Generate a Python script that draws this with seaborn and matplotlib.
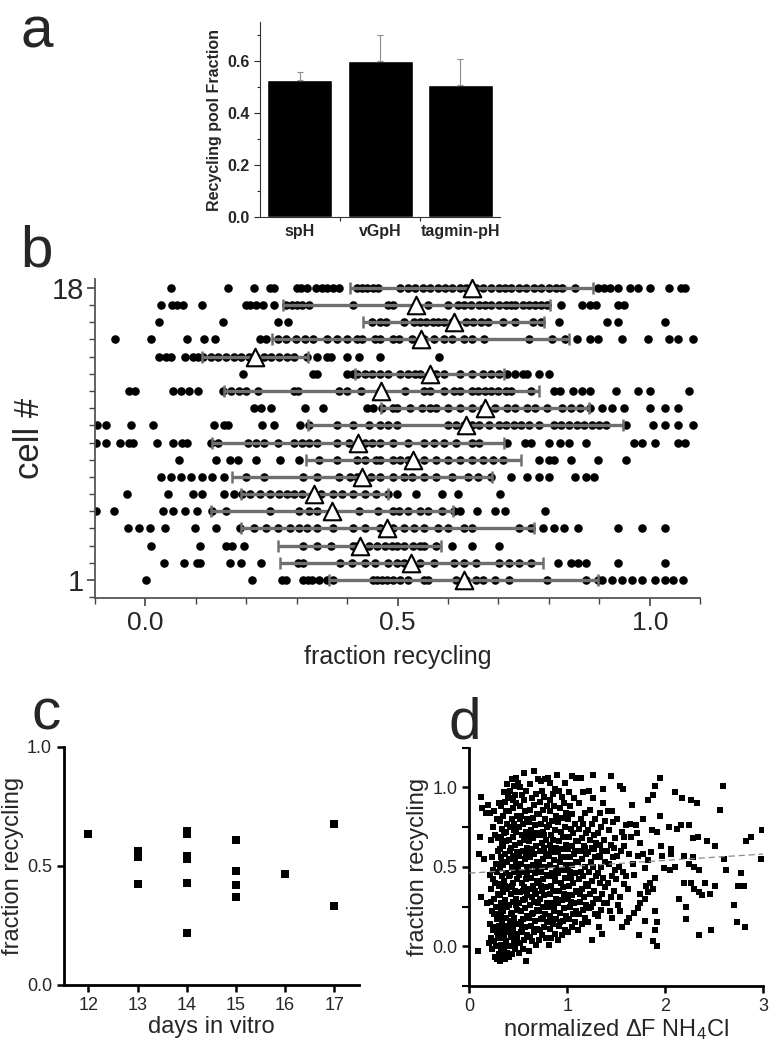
import numpy as np
import pandas as pd
import matplotlib
matplotlib.use("Agg")
import matplotlib.pyplot as plt
import seaborn as sns
from matplotlib.ticker import MultipleLocator, FixedLocator

# ---- panel a: recycling pool fraction per probe
probes = ["spH", "vGpH", "tagmin-pH"]
pool_frac = [0.527, 0.600, 0.508]
pool_err = [0.031, 0.100, 0.099]

# ---- panel b: fraction recycling of every bouton, one list per cell (cell 1 .. 18)
cell_points = [
    [0.002, 0.211, 0.27, 0.278, 0.313, 0.322, 0.33, 0.345, 0.36, 0.372, 0.451, 0.46, 0.47, 0.48, 0.49, 0.505, 0.521,
     0.553, 0.56, 0.615, 0.635, 0.655, 0.67, 0.694, 0.721, 0.796, 0.874, 0.898, 0.906, 0.925, 0.945, 0.964, 0.984,
     1.011, 1.031, 1.047, 1.066],
    [0.036, 0.076, 0.102, 0.109, 0.167, 0.19, 0.229, 0.302, 0.313, 0.386, 0.41, 0.435, 0.455, 0.482, 0.498, 0.513,
     0.545, 0.572, 0.611, 0.631, 0.655, 0.702, 0.72, 0.741, 0.764, 0.819, 0.843, 0.858, 0.874, 0.937, 1.031],
    [0.011, 0.109, 0.16, 0.172, 0.196, 0.313, 0.341, 0.368, 0.411, 0.419, 0.443, 0.46, 0.475, 0.488, 0.498, 0.513,
     0.53, 0.545, 0.553, 0.576, 0.607, 0.647, 0.702],
    [-0.034, -0.012, 0.01, 0.039, 0.098, 0.141, 0.188, 0.215, 0.239, 0.262, 0.286, 0.305, 0.321, 0.341, 0.372, 0.411,
     0.435, 0.466, 0.49, 0.513, 0.533, 0.553, 0.58, 0.6, 0.631, 0.647, 0.741, 0.764, 0.788, 0.81, 0.83, 0.858, 0.937,
     0.984, 1.031],
    [-0.098, -0.063, 0.035, 0.055, 0.078, 0.102, 0.133, 0.16, 0.247, 0.305, 0.325, 0.341, 0.372, 0.423, 0.462, 0.49,
     0.502, 0.52, 0.545, 0.56, 0.588, 0.611, 0.623, 0.658, 0.694, 0.713, 0.792],
    [-0.037, 0.044, 0.094, 0.113, 0.156, 0.176, 0.192, 0.207, 0.227, 0.247, 0.265, 0.28, 0.294, 0.31, 0.333, 0.349,
     0.372, 0.39, 0.411, 0.435, 0.458, 0.482, 0.498, 0.537, 0.588, 0.62, 0.704],
    [0.031, 0.05, 0.07, 0.09, 0.113, 0.133, 0.156, 0.2, 0.235, 0.313, 0.341, 0.384, 0.405, 0.419, 0.447, 0.466, 0.49,
     0.513, 0.529, 0.553, 0.576, 0.607, 0.639, 0.66, 0.686, 0.725, 0.756, 0.78, 0.8, 0.851, 0.874, 0.89],
    [0.066, 0.141, 0.168, 0.184, 0.219, 0.266, 0.305, 0.345, 0.38, 0.419, 0.435, 0.458, 0.466, 0.49, 0.505, 0.521,
     0.553, 0.576, 0.6, 0.623, 0.647, 0.67, 0.69, 0.71, 0.78, 0.8, 0.811, 0.843, 0.898, 0.953],
    [-0.098, -0.079, -0.051, -0.032, -0.024, 0.023, 0.055, 0.073, 0.082, 0.131, 0.145, 0.204, 0.22, 0.235, 0.262,
     0.294, 0.31, 0.325, 0.341, 0.38, 0.404, 0.435, 0.45, 0.465, 0.49, 0.521, 0.553, 0.572, 0.592, 0.615, 0.647,
     0.662, 0.717, 0.753, 0.764, 0.8, 0.823, 0.839, 0.874, 0.968, 0.984, 1.011, 1.055, 1.07],
    [-0.095, -0.079, -0.028, 0.015, 0.137, 0.156, 0.164, 0.231, 0.255, 0.306, 0.325, 0.38, 0.411, 0.443, 0.466,
     0.482, 0.498, 0.6, 0.615, 0.631, 0.647, 0.662, 0.682, 0.702, 0.715, 0.73, 0.745, 0.76, 0.78, 0.811, 0.825, 0.84,
     0.855, 0.87, 0.885, 0.9, 0.913, 0.953, 1.007, 1.031, 1.055, 1.086],
    [0.215, 0.23, 0.25, 0.317, 0.352, 0.439, 0.451, 0.47, 0.49, 0.498, 0.525, 0.549, 0.565, 0.576, 0.6, 0.623, 0.647,
     0.67, 0.694, 0.717, 0.733, 0.756, 0.772, 0.796, 0.827, 0.843, 0.862, 0.882, 0.906, 0.925, 0.949, 1.0, 1.031,
     1.055],
    [-0.032, -0.02, 0.055, 0.071, 0.086, 0.105, 0.154, 0.17, 0.185, 0.2, 0.223, 0.294, 0.302, 0.384, 0.4, 0.427,
     0.466, 0.515, 0.553, 0.564, 0.592, 0.611, 0.623, 0.647, 0.66, 0.674, 0.686, 0.7, 0.715, 0.725, 0.764, 0.811,
     0.823, 0.847, 0.866, 0.882, 0.933, 0.976, 1.0, 1.078],
    [0.193, 0.333, 0.341, 0.4, 0.411, 0.42, 0.435, 0.45, 0.465, 0.482, 0.505, 0.52, 0.535, 0.545, 0.576, 0.592, 0.623,
     0.647, 0.67, 0.686, 0.702, 0.717, 0.733, 0.749, 0.756, 0.78, 0.8],
    [0.027, 0.04, 0.051, 0.078, 0.094, 0.105, 0.115, 0.13, 0.145, 0.16, 0.175, 0.19, 0.205, 0.22, 0.235, 0.25, 0.265,
     0.28, 0.294, 0.321, 0.341, 0.36, 0.368, 0.4, 0.423, 0.466, 0.582],
    [-0.061, 0.011, 0.082, 0.117, 0.138, 0.227, 0.239, 0.262, 0.278, 0.298, 0.317, 0.333, 0.36, 0.38, 0.4, 0.42,
     0.429, 0.455, 0.466, 0.49, 0.502, 0.529, 0.553, 0.572, 0.592, 0.607, 0.631, 0.647, 0.672, 0.76, 0.807, 0.831,
     0.855, 0.882, 0.898, 0.945, 0.996, 1.039, 1.056, 1.086],
    [0.027, 0.154, 0.262, 0.282, 0.45, 0.465, 0.478, 0.513, 0.533, 0.545, 0.557, 0.57, 0.58, 0.592, 0.607, 0.635,
     0.65, 0.665, 0.68, 0.71, 0.733, 0.768, 0.784, 0.82, 0.915, 0.938, 1.03],
    [0.031, 0.052, 0.062, 0.074, 0.112, 0.2, 0.207, 0.219, 0.233, 0.255, 0.278, 0.29, 0.3, 0.31, 0.325, 0.411, 0.482,
     0.49, 0.56, 0.6, 0.619, 0.632, 0.646, 0.662, 0.674, 0.686, 0.702, 0.714, 0.725, 0.733, 0.749, 0.76, 0.772,
     0.784, 0.796, 0.825, 0.865, 0.882, 0.894, 0.937, 0.949],
    [0.051, 0.164, 0.215, 0.247, 0.255, 0.3, 0.309, 0.321, 0.339, 0.35, 0.36, 0.372, 0.384, 0.419, 0.429, 0.439,
     0.451, 0.462, 0.505, 0.52, 0.535, 0.55, 0.565, 0.58, 0.595, 0.607, 0.623, 0.635, 0.655, 0.67, 0.686, 0.702,
     0.713, 0.725, 0.74, 0.755, 0.77, 0.785, 0.8, 0.815, 0.827, 0.851, 0.898, 0.909, 0.921, 0.937, 0.96, 0.976, 1.0,
     1.039, 1.062, 1.07],
]
cell_mean = [0.631, 0.527, 0.425, 0.480, 0.370, 0.335, 0.429, 0.531, 0.422,
             0.635, 0.674, 0.468, 0.564, 0.217, 0.546, 0.611, 0.537, 0.647]
cell_sd = [0.267, 0.261, 0.162, 0.290, 0.239, 0.146, 0.258, 0.213, 0.290,
           0.312, 0.206, 0.313, 0.148, 0.105, 0.294, 0.180, 0.265, 0.241]

# ---- panel c: mean fraction recycling per cell vs days in vitro
div_days = [12, 13, 13, 13, 14, 14, 14, 14, 14, 14, 15, 15, 15, 15, 16, 17, 17]
div_frac = [0.632, 0.563, 0.538, 0.424, 0.647, 0.633, 0.542, 0.527, 0.429, 0.216,
            0.609, 0.479, 0.420, 0.368, 0.466, 0.674, 0.333]

# ---- panel d: fraction recycling vs normalized dF NH4Cl (x, y) per bouton
d_dense = [
    (0.12, 0.94), (0.13, 0.87), (0.11, 0.69), (0.10, 0.58), (0.12, 0.31), (0.09, -0.03), (0.19, 0.89), (0.18, 0.27),
    (0.17, 0.84), (0.15, 0.55), (0.20, 0.02),
    (0.21, 0.84), (0.22, 0.67), (0.23, 0.56), (0.21, 0.45), (0.24, 0.42), (0.22, 0.36), (0.25, 0.30), (0.23, 0.22),
    (0.21, 0.14), (0.24, 0.10), (0.22, 0.05), (0.25, 0.03), (0.23, -0.02), (0.26, -0.07), (0.28, -0.08), (0.27, 0.00),
    (0.29, 0.06), (0.26, 0.12), (0.28, 0.17), (0.27, 0.25), (0.29, 0.33), (0.26, 0.40), (0.28, 0.47), (0.27, 0.52),
    (0.29, 0.60), (0.26, 0.70), (0.28, 0.80), (0.25, 0.85), (0.30, 0.90), (0.24, 0.75), (0.29, 0.68), (0.30, 0.38),
    (0.30, 0.13), (0.30, -0.05), (0.22, 0.28), (0.25, 0.20), (0.28, 0.09), (0.24, 0.48),
    (0.31, -0.09), (0.34, -0.06), (0.37, -0.08), (0.32, -0.03), (0.36, -0.01), (0.39, -0.04), (0.33, 0.01),
    (0.38, 0.03), (0.31, 0.05), (0.35, 0.07), (0.39, 0.09), (0.32, 0.11), (0.36, 0.13), (0.34, 0.16), (0.38, 0.18),
    (0.31, 0.20), (0.35, 0.22), (0.39, 0.25), (0.33, 0.27), (0.37, 0.29), (0.31, 0.32), (0.35, 0.34), (0.39, 0.36),
    (0.32, 0.39), (0.36, 0.41), (0.34, 0.44), (0.38, 0.46), (0.31, 0.49), (0.35, 0.51), (0.39, 0.53), (0.33, 0.56),
    (0.37, 0.58), (0.31, 0.61), (0.35, 0.63), (0.38, 0.66), (0.32, 0.69), (0.36, 0.71), (0.34, 0.74), (0.39, 0.77),
    (0.31, 0.79), (0.35, 0.82), (0.38, 0.85), (0.33, 0.88), (0.37, 0.91), (0.40, 0.94), (0.36, 0.97), (0.39, 1.02),
    (0.34, 0.53), (0.38, 0.12), (0.33, 0.19), (0.37, 0.38), (0.32, 0.24), (0.36, 0.06), (0.39, 0.00), (0.35, 0.27),
    (0.34, 0.65), (0.38, 0.72),
    (0.41, -0.07), (0.44, -0.05), (0.47, -0.02), (0.42, 0.00), (0.46, 0.02), (0.49, 0.05), (0.43, 0.06), (0.41, 0.09),
    (0.45, 0.11), (0.48, 0.14), (0.42, 0.16), (0.46, 0.18), (0.44, 0.21), (0.49, 0.23), (0.41, 0.26), (0.45, 0.28),
    (0.48, 0.30), (0.43, 0.33), (0.47, 0.35), (0.41, 0.37), (0.45, 0.40), (0.49, 0.42), (0.42, 0.45), (0.46, 0.47),
    (0.44, 0.50), (0.48, 0.52), (0.41, 0.55), (0.45, 0.57), (0.49, 0.59), (0.43, 0.62), (0.47, 0.64), (0.41, 0.67),
    (0.45, 0.69), (0.48, 0.72), (0.42, 0.75), (0.46, 0.77), (0.44, 0.80), (0.49, 0.82), (0.41, 0.85), (0.45, 0.87),
    (0.48, 0.90), (0.43, 0.93), (0.47, 0.95), (0.42, 0.98), (0.46, 1.01), (0.44, 1.05), (0.48, 1.06), (0.50, 1.03),
    (0.43, 0.20), (0.47, 0.08), (0.44, 0.38), (0.49, 0.34), (0.42, 0.60), (0.46, 0.73), (0.50, 0.48), (0.44, 0.12),
    (0.48, 0.26), (0.45, 0.92), (0.41, 0.44), (0.47, 0.55),
    (0.51, -0.04), (0.55, -0.02), (0.58, -0.09), (0.52, 0.02), (0.56, 0.04), (0.59, 0.07), (0.53, 0.09), (0.57, 0.12),
    (0.51, 0.14), (0.55, 0.17), (0.59, 0.19), (0.53, 0.22), (0.57, 0.24), (0.51, 0.27), (0.55, 0.29), (0.59, 0.32),
    (0.52, 0.34), (0.56, 0.37), (0.54, 0.40), (0.58, 0.42), (0.51, 0.45), (0.55, 0.47), (0.59, 0.50), (0.53, 0.52),
    (0.57, 0.55), (0.51, 0.57), (0.55, 0.60), (0.59, 0.62), (0.52, 0.65), (0.56, 0.67), (0.54, 0.70), (0.58, 0.72),
    (0.51, 0.75), (0.55, 0.77), (0.59, 0.80), (0.53, 0.82), (0.57, 0.85), (0.52, 0.88), (0.56, 0.92), (0.54, 0.95),
    (0.58, 0.98), (0.56, 1.09), (0.52, 1.00), (0.57, 0.30), (0.53, 0.15), (0.58, 0.58), (0.52, 0.80), (0.55, 0.35),
    (0.59, 0.45), (0.54, 0.10), (0.57, 0.68),
    (0.61, -0.03), (0.64, 0.03), (0.68, 0.01), (0.62, 0.06), (0.66, 0.09), (0.69, 0.11), (0.63, 0.13), (0.67, 0.16),
    (0.61, 0.18), (0.65, 0.21), (0.69, 0.23), (0.62, 0.26), (0.66, 0.28), (0.64, 0.31), (0.68, 0.33), (0.61, 0.36),
    (0.65, 0.38), (0.69, 0.41), (0.63, 0.43), (0.67, 0.46), (0.61, 0.48), (0.65, 0.51), (0.69, 0.53), (0.62, 0.56),
    (0.66, 0.58), (0.64, 0.61), (0.68, 0.63), (0.61, 0.66), (0.65, 0.68), (0.69, 0.71), (0.63, 0.73), (0.67, 0.76),
    (0.61, 0.78), (0.65, 0.81), (0.69, 0.83), (0.62, 0.86), (0.66, 0.89), (0.64, 0.93), (0.68, 0.96), (0.62, 1.02),
    (0.66, 1.10), (0.70, 1.05), (0.64, 0.20), (0.68, 0.48), (0.62, 0.60), (0.67, 0.35), (0.63, 0.70), (0.66, 0.10),
    (0.70, 0.27),
    (0.71, 0.04), (0.74, 0.07), (0.78, 0.05), (0.72, 0.10), (0.76, 0.12), (0.79, 0.15), (0.73, 0.17), (0.77, 0.20),
    (0.71, 0.22), (0.75, 0.25), (0.79, 0.27), (0.72, 0.30), (0.76, 0.32), (0.74, 0.35), (0.78, 0.37), (0.71, 0.40),
    (0.75, 0.42), (0.79, 0.45), (0.73, 0.47), (0.77, 0.50), (0.71, 0.52), (0.75, 0.55), (0.79, 0.57), (0.72, 0.60),
    (0.76, 0.62), (0.74, 0.65), (0.78, 0.67), (0.71, 0.70), (0.75, 0.72), (0.79, 0.75), (0.73, 0.77), (0.77, 0.80),
    (0.71, 0.83), (0.75, 0.86), (0.79, 0.88), (0.72, 0.91), (0.76, 0.94), (0.74, 0.98), (0.77, 1.05), (0.73, 1.04),
    (0.80, 1.06), (0.75, 0.18), (0.78, 0.58), (0.73, 0.38), (0.76, 0.70), (0.72, 0.49),
    (0.81, 0.01), (0.84, 0.05), (0.88, 0.08), (0.82, 0.11), (0.86, 0.14), (0.89, 0.17), (0.83, 0.19), (0.87, 0.22),
    (0.81, 0.25), (0.85, 0.27), (0.89, 0.30), (0.82, 0.33), (0.86, 0.35), (0.84, 0.38), (0.88, 0.41), (0.81, 0.44),
    (0.85, 0.46), (0.89, 0.49), (0.83, 0.51), (0.87, 0.54), (0.81, 0.57), (0.85, 0.59), (0.89, 0.62), (0.82, 0.64),
    (0.86, 0.67), (0.84, 0.70), (0.88, 0.73), (0.81, 0.76), (0.85, 0.79), (0.89, 0.82), (0.83, 0.85), (0.87, 0.88),
    (0.82, 0.92), (0.86, 0.96), (0.88, 0.99), (0.83, 1.03), (0.90, 1.08), (0.87, 0.26), (0.84, 0.60), (0.88, 0.45),
    (0.82, 0.17),
    (0.91, 0.04), (0.95, 0.07), (0.98, 0.10), (0.92, 0.13), (0.96, 0.16), (0.99, 0.19), (0.93, 0.21), (0.97, 0.24),
    (0.91, 0.27), (0.95, 0.29), (0.99, 0.32), (0.92, 0.35), (0.96, 0.37), (0.94, 0.40), (0.98, 0.43), (0.91, 0.46),
    (0.95, 0.48), (0.99, 0.51), (0.93, 0.53), (0.97, 0.56), (0.91, 0.59), (0.95, 0.61), (0.99, 0.64), (0.92, 0.66),
    (0.96, 0.69), (0.94, 0.72), (0.98, 0.75), (0.91, 0.78), (0.95, 0.81), (0.99, 0.84), (0.93, 0.87), (0.97, 0.90),
    (0.95, 0.94), (0.92, 0.98), (0.98, 1.03), (0.94, 0.56), (0.97, 0.33), (0.93, 0.15),
    (1.01, 0.09), (1.05, 0.12), (1.08, 0.15), (1.02, 0.17), (1.06, 0.20), (1.09, 0.22), (1.03, 0.25), (1.07, 0.27),
    (1.01, 0.30), (1.05, 0.32), (1.09, 0.35), (1.02, 0.38), (1.06, 0.40), (1.04, 0.43), (1.08, 0.46), (1.01, 0.48),
    (1.05, 0.51), (1.09, 0.53), (1.03, 0.56), (1.07, 0.58), (1.01, 0.61), (1.05, 0.63), (1.09, 0.66), (1.02, 0.69),
    (1.06, 0.71), (1.04, 0.74), (1.08, 0.77), (1.01, 0.80), (1.05, 0.83), (1.03, 0.88), (1.07, 0.93), (1.02, 0.97),
    (1.05, 1.07), (1.09, 1.06), (1.04, 0.28), (1.08, 0.60), (1.03, 0.47),
    (1.11, 0.10), (1.15, 0.14), (1.18, 0.18), (1.12, 0.20), (1.16, 0.23), (1.19, 0.26), (1.13, 0.28), (1.17, 0.31),
    (1.11, 0.34), (1.15, 0.36), (1.19, 0.39), (1.12, 0.42), (1.16, 0.44), (1.14, 0.47), (1.18, 0.50), (1.11, 0.53),
    (1.15, 0.55), (1.19, 0.58), (1.13, 0.60), (1.17, 0.63), (1.11, 0.66), (1.15, 0.68), (1.19, 0.71), (1.12, 0.74),
    (1.16, 0.77), (1.14, 0.80), (1.18, 0.84), (1.12, 0.90), (1.16, 0.97), (1.14, 1.06), (1.18, 0.62), (1.13, 0.33),
    (1.21, 0.15), (1.25, 0.04), (1.28, 0.20), (1.22, 0.24), (1.26, 0.27), (1.29, 0.30), (1.23, 0.33), (1.27, 0.35),
    (1.21, 0.38), (1.25, 0.41), (1.29, 0.44), (1.22, 0.47), (1.26, 0.50), (1.24, 0.53), (1.28, 0.56), (1.21, 0.59),
    (1.25, 0.62), (1.29, 0.65), (1.23, 0.67), (1.27, 0.70), (1.21, 0.73), (1.25, 0.77), (1.28, 0.80), (1.23, 0.86),
    (1.26, 0.93), (1.22, 0.98), (1.27, 0.61), (1.24, 0.25),
    (1.31, 0.19), (1.35, 0.23), (1.38, 0.27), (1.32, 0.30), (1.36, 0.33), (1.39, 0.37), (1.33, 0.40), (1.37, 0.43),
    (1.31, 0.46), (1.35, 0.50), (1.39, 0.53), (1.32, 0.57), (1.36, 0.60), (1.34, 0.64), (1.38, 0.67), (1.31, 0.71),
    (1.35, 0.75), (1.39, 0.79), (1.33, 0.84), (1.37, 0.90), (1.32, 0.12), (1.36, 0.08), (1.34, 0.56),
    (1.41, 0.27), (1.45, 0.31), (1.48, 0.35), (1.42, 0.40), (1.46, 0.44), (1.49, 0.48), (1.43, 0.52), (1.47, 0.56),
    (1.41, 0.60), (1.45, 0.64), (1.49, 0.68), (1.43, 0.73), (1.47, 0.78), (1.42, 0.85), (1.46, 0.18), (1.44, 0.22),
    (1.48, 0.62),
]
d_sparse = [
    (1.54, 1.01), (1.57, 0.99), (1.66, 0.89), (1.82, 0.92), (1.88, 0.95), (1.95, 1.06), (1.90, 1.01), (2.10, 0.97),
    (2.17, 0.93), (2.26, 0.92), (2.32, 0.90), (2.59, 1.01), (2.56, 0.86), (1.77, 0.80), (1.95, 0.82), (1.70, 0.76),
    (1.87, 0.73), (1.92, 0.72), (2.04, 0.75), (2.12, 0.74), (2.24, 0.76), (2.16, 0.76), (2.28, 0.68), (2.33, 0.69),
    (2.43, 0.66), (2.51, 0.63), (2.82, 0.66), (2.88, 0.69), (2.99, 0.73), (2.98, 0.55), (2.60, 0.55), (2.62, 0.48),
    (2.77, 0.46), (2.80, 0.38), (2.74, 0.38), (2.51, 0.38), (2.41, 0.40), (2.34, 0.48), (2.29, 0.50), (2.24, 0.52),
    (2.19, 0.57), (2.28, 0.56), (2.06, 0.58), (2.10, 0.50), (2.05, 0.48), (1.99, 0.49), (1.97, 0.57), (1.96, 0.63),
    (2.06, 0.61), (1.86, 0.59), (1.82, 0.54), (1.79, 0.49), (1.74, 0.65), (1.71, 0.71), (1.65, 0.69), (2.26, 0.40),
    (2.29, 0.36), (2.34, 0.34), (2.38, 0.32), (2.19, 0.40), (2.14, 0.30), (2.21, 0.25), (2.21, 0.17), (1.90, 0.43),
    (1.85, 0.40), (1.80, 0.38), (1.88, 0.36), (1.82, 0.34), (1.74, 0.33), (1.79, 0.30), (1.74, 0.27), (1.72, 0.24),
    (1.68, 0.21), (1.63, 0.18), (1.61, 0.15), (1.79, 0.16), (1.90, 0.22), (1.92, 0.15), (1.90, 0.10), (1.73, 0.07),
    (1.88, 0.03), (1.92, 0.00), (2.34, 0.07), (2.47, 0.10), (2.70, 0.26), (2.73, 0.15), (2.81, 0.12), (2.46, 0.33),
    (1.58, 0.39), (1.54, 0.31), (1.54, 0.22), (1.60, 0.44), (1.51, 0.57), (1.58, 0.63), (1.63, 0.58), (1.72, 0.57),
    (1.77, 0.58), (1.67, 0.52), (1.60, 0.76), (1.58, 0.69), (1.64, 0.77), (1.46, 0.85), (1.51, 0.80), (1.37, 0.99),
    (1.26, 1.08), (1.45, 1.07), (1.55, 0.60), (1.53, 0.50), (1.57, 0.47), (1.62, 0.36), (1.52, 0.26), (1.56, 0.12),
    (1.50, 0.42), (1.68, 0.45), (1.56, 0.72),
]
fit_intercept = 0.46
fit_slope = 0.04

# ---- style
sns.set_style("ticks")
plt.rcParams["font.family"] = ["Liberation Sans", "DejaVu Sans"]
plt.rcParams["mathtext.fontset"] = "custom"
plt.rcParams["mathtext.rm"] = "Liberation Sans"
plt.rcParams["mathtext.it"] = "Liberation Sans:italic"

fig = plt.figure(figsize=(7.78, 10.5), dpi=100)

# ---------------- panel a
ax_a = fig.add_axes([0.334, 0.793, 0.309, 0.186])
sns.barplot(x=probes, y=pool_frac, color="black", width=0.81, saturation=1, ax=ax_a)
ax_a.errorbar(range(len(probes)), pool_frac, yerr=[[0] * 3, pool_err], fmt="none",
              ecolor="#8c8c8c", elinewidth=0.8, capsize=2, capthick=0.8)
ax_a.set_xlim(-0.5, 2.5)
ax_a.set_ylim(0, 0.75)
ax_a.yaxis.set_major_locator(FixedLocator([0, 0.2, 0.4, 0.6]))
ax_a.yaxis.set_minor_locator(MultipleLocator(0.1))
ax_a.xaxis.set_minor_locator(FixedLocator([0.5, 1.5]))
ax_a.tick_params(axis="x", which="major", length=0, pad=5)
ax_a.tick_params(axis="x", which="minor", length=3, width=0.8)
ax_a.tick_params(axis="y", which="major", length=4, width=0.8)
ax_a.tick_params(axis="y", which="minor", length=2, width=0.8)
for lab in ax_a.get_xticklabels() + ax_a.get_yticklabels():
    lab.set_fontweight("bold")
    lab.set_fontsize(11.5)
ax_a.set_ylabel("Recycling pool Fraction", fontsize=11.5, fontweight="bold", labelpad=4)
sns.despine(ax=ax_a)
for sp in ax_a.spines.values():
    sp.set_linewidth(0.8)
    sp.set_color("#333333")

# ---------------- panel b
ax_b = fig.add_axes([0.122, 0.4305, 0.778, 0.3035])
rows = []
for i, pts in enumerate(cell_points, start=1):
    for v in pts:
        rows.append((v, i))
df_b = pd.DataFrame(rows, columns=["frac", "cell"])
cells = np.arange(1, len(cell_points) + 1)
sns.scatterplot(data=df_b, x="frac", y="cell", color="black", s=38, linewidth=0, ax=ax_b, zorder=2)
ax_b.errorbar(cell_mean, cells, xerr=cell_sd, fmt="none", ecolor="#6f6f6f",
              elinewidth=2.4, capsize=4.5, capthick=1.8, zorder=3)
sns.scatterplot(x=cell_mean, y=cells, marker="^", s=160, color="white", edgecolor="black",
                linewidth=1.5, ax=ax_b, zorder=4)
ax_b.set_xlim(-0.1, 1.1)
ax_b.set_ylim(-0.05, 18.5)
ax_b.set_xticks([0.0, 0.5, 1.0])
ax_b.set_xticklabels(["0.0", "0.5", "1.0"])
ax_b.xaxis.set_minor_locator(MultipleLocator(0.1))
ax_b.set_yticks([1, 18])
ax_b.yaxis.set_minor_locator(MultipleLocator(1))
ax_b.tick_params(axis="both", which="major", length=6, width=1.2, color="#444444")
ax_b.tick_params(axis="both", which="minor", length=4, width=1.0, color="#444444")
ax_b.tick_params(axis="x", labelsize=19)
ax_b.tick_params(axis="y", labelsize=21, pad=2)
ax_b.set_xlabel("fraction recycling", fontsize=18, labelpad=7)
ax_b.set_ylabel("cell #", fontsize=25, labelpad=4)
sns.despine(ax=ax_b)
for sp in ax_b.spines.values():
    sp.set_linewidth(1.3)
    sp.set_color("#555555")

# ---------------- panel c
ax_c = fig.add_axes([0.082, 0.062, 0.379, 0.227])
sns.scatterplot(x=div_days, y=div_frac, marker="s", s=30, color="black", linewidth=0, ax=ax_c)
ax_c.set_xlim(11.5, 17.5)
ax_c.set_ylim(0, 1.0)
ax_c.set_xticks([12, 13, 14, 15, 16, 17])
ax_c.set_yticks([0.0, 0.5, 1.0])
ax_c.set_yticklabels(["0.0", "0.5", "1.0"])
ax_c.tick_params(axis="both", length=5, width=1.8, labelsize=13, color="black")
ax_c.set_xlabel("days in vitro", fontsize=17, labelpad=2)
ax_c.set_ylabel("fraction recycling", fontsize=17, labelpad=2)
sns.despine(ax=ax_c)
for sp in ax_c.spines.values():
    sp.set_linewidth(2)
    sp.set_color("black")

# ---------------- panel d
ax_d = fig.add_axes([0.603, 0.061, 0.378, 0.227])
df_d = pd.DataFrame(d_dense + d_sparse, columns=["dF", "frac"])
sns.scatterplot(data=df_d, x="dF", y="frac", marker="s", s=22, color="black", linewidth=0, ax=ax_d)
fit_x = np.array([0, 3])
ax_d.plot(fit_x, fit_intercept + fit_slope * fit_x, color="#8a8a8a", lw=0.9, ls=(0, (5, 3)), zorder=3)
ax_d.set_xlim(0, 3)
ax_d.set_ylim(-0.25, 1.25)
ax_d.set_xticks([0, 1, 2, 3])
ax_d.set_yticks([0.0, 0.5, 1.0])
ax_d.set_yticklabels(["0.0", "0.5", "1.0"])
ax_d.yaxis.set_minor_locator(MultipleLocator(0.25))
ax_d.tick_params(axis="both", which="major", length=5, width=1.8, labelsize=13, color="black")
ax_d.tick_params(axis="y", which="minor", length=5, width=1.5, color="black")
ax_d.set_xlabel("normalized \u0394F NH$_4$Cl", fontsize=17, labelpad=2)
ax_d.set_ylabel("fraction recycling", fontsize=17, labelpad=2)
sns.despine(ax=ax_d)
for sp in ax_d.spines.values():
    sp.set_linewidth(2)
    sp.set_color("black")

# ---------------- panel letters
fig.text(0.026, 0.955, "a", fontsize=42, va="baseline")
fig.text(0.026, 0.746, "b", fontsize=42, va="baseline")
fig.text(0.040, 0.305, "c", fontsize=42, va="baseline")
fig.text(0.577, 0.297, "d", fontsize=42, va="baseline")

fig.savefig("out.png", dpi=100)
